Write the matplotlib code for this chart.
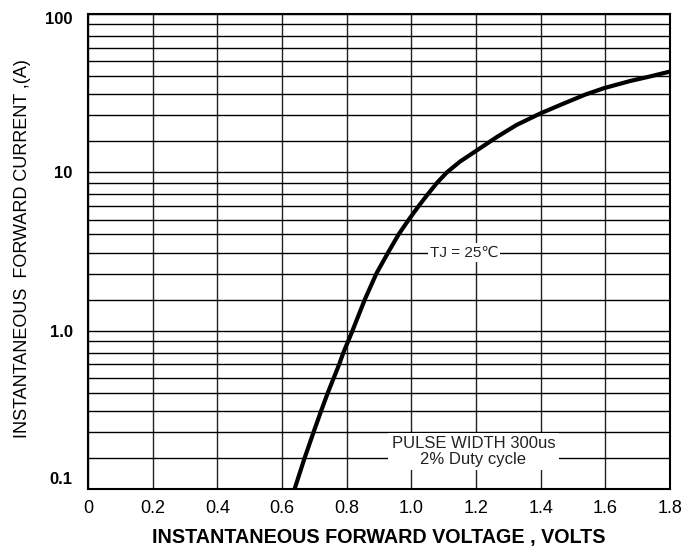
import numpy as np
import matplotlib
matplotlib.use("Agg")
import matplotlib.pyplot as plt
from matplotlib.transforms import ScaledTranslation

plt.rcParams['font.family'] = ['Liberation Sans', 'DejaVu Sans']

# forward voltage (V) vs instantaneous forward current (A)
vf = [0.639, 0.670, 0.698, 0.721, 0.742, 0.760, 0.777, 0.790, 0.805, 0.818,
      0.856, 0.892, 0.928, 0.961, 0.992, 1.023, 1.051, 1.080, 1.110, 1.151,
      1.2, 1.264, 1.326, 1.4, 1.470, 1.537, 1.597, 1.676, 1.738, 1.8]
i_f = [0.1, 0.2, 0.3, 0.4, 0.5, 0.6, 0.7, 0.8, 0.9, 1.0,
       2, 3, 4, 5, 6, 7, 8, 9, 10, 13.5,
       16.9, 21.6, 26.3, 30.9, 35.5, 39.8, 43.4, 47.2, 49.7, 53.0]

x_ticks = [0, 0.2, 0.4, 0.6, 0.8, 1.0, 1.2, 1.4, 1.6, 1.8]
x_labels = ['0', '0.2', '0.4', '0.6', '0.8', '1.0', '1.2', '1.4', '1.6', '1.8']
y_ticks = [0.1, 1, 10, 100]
y_labels = ['0.1', '1.0', '10', '100']

# the printed log paper is not quite logarithmic: where each 1..10 line
# sits inside its decade (fraction of decade height)
grid_m = [1, 2, 3, 4, 5, 6, 7, 8, 9, 10]
grid_pos = [0, 0.196, 0.361, 0.493, 0.609, 0.701, 0.788, 0.862, 0.935, 1.0]


def fwd(v):
    v = np.asarray(v, dtype=float)
    out = np.full(v.shape, np.nan)
    ok = v > 0
    d = np.floor(np.log10(v[ok]) + 1e-12)
    m = v[ok] / 10.0 ** d
    out[ok] = d + np.interp(m, grid_m, grid_pos)
    return out


def inv(p):
    p = np.asarray(p, dtype=float)
    d = np.floor(p + 1e-12)
    return np.interp(p - d, grid_pos, grid_m) * 10.0 ** d


fig = plt.figure(figsize=(6.95, 5.5), dpi=100)
ax = fig.add_axes([0.1266, 0.1109, 0.8374, 0.8636])
ax.set_yscale('function', functions=(fwd, inv))

ax.plot(vf, i_f, color='black', lw=3.0, solid_joinstyle='round', zorder=3)

ax.set_xlim(0, 1.8)
ax.set_ylim(0.1, 100)
ax.set_xticks(x_ticks)
ax.set_xticklabels(x_labels)
ax.set_yticks(y_ticks)
ax.set_yticklabels(y_labels)
minor = [m * 10.0 ** d for d in (-1, 0, 1) for m in range(2, 10)]
ax.set_yticks(minor, minor=True)
ax.tick_params(which='both', length=0)
ax.tick_params(axis='x', labelsize=13, pad=8)
ax.tick_params(axis='y', labelsize=12, pad=11)
for lab in ax.get_yticklabels():
    lab.set_fontweight('bold')

# nudge the end labels the way the datasheet prints them
offs = {'0.1': 8, '100': -3}
for lab in ax.get_yticklabels():
    dy = offs.get(lab.get_text(), 0)
    if dy:
        lab.set_transform(lab.get_transform() + ScaledTranslation(0, dy / 72, fig.dpi_scale_trans))

ax.grid(True, which='both', axis='y', color='black', lw=1.0)
ax.grid(True, which='major', axis='x', color='#222222', lw=1.0)
ax.set_axisbelow(True)
for s in ax.spines.values():
    s.set_linewidth(1.5)
    s.set_color('black')

ax.set_xlabel('INSTANTANEOUS FORWARD VOLTAGE , VOLTS', fontsize=14.2, fontweight='bold')
ax.xaxis.set_label_coords(0.5, -0.1025)
ax.xaxis.label.set_va('center')
ax.set_ylabel('INSTANTANEOUS  FORWARD CURRENT ,(A)', fontsize=13)
ax.yaxis.set_label_coords(-0.113, 0.507)
ax.yaxis.label.set_va('center')

ax.text(1.163, 4, 'TJ = 25℃', fontsize=11, ha='center', va='center', color='#222222',
        bbox=dict(facecolor='white', edgecolor='none', pad=1.5), zorder=4)
ax.text(1.192, 0.225, 'PULSE WIDTH 300us\n2% Duty cycle', fontsize=12, ha='center', va='center',
        color='#222222', linespacing=1.05,
        bbox=dict(boxstyle='square,pad=0.2', facecolor='white', edgecolor='none'), zorder=4)

fig.savefig('out.png', dpi=100)
